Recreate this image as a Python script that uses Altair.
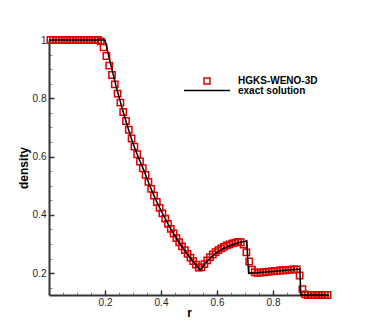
import altair as alt
import pandas as pd

# numerical solution (HGKS-WENO-3D), cell centres
num_r = [0.005, 0.015, 0.025, 0.035, 0.045, 0.055, 0.065, 0.075, 0.085, 0.095,
         0.105, 0.115, 0.125, 0.135, 0.145, 0.155, 0.165, 0.175, 0.185, 0.195,
         0.205, 0.215, 0.225, 0.235, 0.245, 0.255, 0.265, 0.275, 0.285, 0.295,
         0.305, 0.315, 0.325, 0.335, 0.345, 0.355, 0.365, 0.375, 0.385, 0.395,
         0.405, 0.415, 0.425, 0.435, 0.445, 0.455, 0.465, 0.475, 0.485, 0.495,
         0.505, 0.515, 0.525, 0.535, 0.545, 0.555, 0.565, 0.575, 0.585, 0.595,
         0.605, 0.615, 0.625, 0.635, 0.645, 0.655, 0.665, 0.675, 0.685, 0.695,
         0.705, 0.715, 0.725, 0.735, 0.745, 0.755, 0.765, 0.775, 0.785, 0.795,
         0.805, 0.815, 0.825, 0.835, 0.845, 0.855, 0.865, 0.875, 0.885, 0.895,
         0.905, 0.915, 0.925, 0.935, 0.945, 0.955, 0.965, 0.975, 0.985, 0.995]
num_rho = [1.0, 1.0, 1.0, 1.0, 1.0, 1.0, 1.0, 1.0, 1.0, 1.0,
           1.0, 1.0, 1.0, 1.0, 1.0, 1.0, 1.0, 1.0, 0.995, 0.975,
           0.945, 0.912, 0.880, 0.848, 0.816, 0.785, 0.753, 0.722, 0.692, 0.662,
           0.634, 0.608, 0.583, 0.560, 0.537, 0.513, 0.489, 0.466, 0.444, 0.424,
           0.405, 0.387, 0.369, 0.352, 0.336, 0.320, 0.306, 0.292, 0.279, 0.266,
           0.253, 0.241, 0.229, 0.219, 0.220, 0.231, 0.244, 0.255, 0.264, 0.272,
           0.279, 0.285, 0.290, 0.295, 0.299, 0.302, 0.305, 0.307, 0.306, 0.298,
           0.271, 0.240, 0.212, 0.203, 0.201, 0.202, 0.203, 0.204, 0.205, 0.206,
           0.207, 0.208, 0.209, 0.210, 0.210, 0.211, 0.212, 0.213, 0.213, 0.192,
           0.145, 0.127, 0.125, 0.125, 0.125, 0.125, 0.125, 0.125, 0.125, 0.125]

# exact solution
exact_r = [0.0, 0.2, 0.22, 0.24, 0.26, 0.28, 0.30, 0.32, 0.34, 0.36, 0.38,
           0.40, 0.42, 0.44, 0.46, 0.48, 0.50, 0.52, 0.54, 0.56, 0.58, 0.60,
           0.62, 0.64, 0.66, 0.68, 0.70, 0.706, 0.713, 0.80, 0.896, 0.899, 1.0]
exact_rho = [1.0, 1.0, 0.918, 0.840, 0.770, 0.705, 0.645, 0.595, 0.550, 0.500, 0.455,
             0.415, 0.378, 0.343, 0.312, 0.284, 0.258, 0.234, 0.211, 0.236, 0.256, 0.271,
             0.283, 0.292, 0.299, 0.305, 0.309, 0.311, 0.199, 0.206, 0.214, 0.125, 0.125]

x_major = [0.2, 0.4, 0.6, 0.8]
x_minor = [0.05, 0.1, 0.15, 0.25, 0.3, 0.35, 0.45, 0.5, 0.55, 0.65, 0.7, 0.75, 0.85, 0.9, 0.95]
y_major = [0.2, 0.4, 0.6, 0.8, 1.0]
y_minor = [0.15, 0.25, 0.3, 0.35, 0.45, 0.5, 0.55, 0.65, 0.7, 0.75, 0.85, 0.9, 0.95]
series_names = ["HGKS-WENO-3D", "exact solution"]

num_df = pd.DataFrame({"r": num_r, "rho": num_rho, "series": series_names[0]})
exact_df = pd.DataFrame({"r": exact_r, "rho": exact_rho, "series": series_names[1]})

FONT = "Liberation Sans"
W, H = 280, 255
xs = alt.Scale(domain=[0, 1], nice=False, zero=False)
ys = alt.Scale(domain=[0.125, 1], nice=False, zero=False)

points = alt.Chart(num_df).mark_point(
    shape="square", filled=False, size=40, strokeWidth=1.5, opacity=1
).encode(
    x=alt.X("r:Q", scale=xs, axis=alt.Axis(
        orient="top", offset=-H, values=x_major, labels=False, domain=False,
        grid=False, tickSize=5, tickWidth=1.5, tickColor="#333", title=None)),
    y=alt.Y("rho:Q", scale=ys, axis=alt.Axis(
        orient="right", offset=-W, values=y_major, labels=False, domain=False,
        grid=False, tickSize=5, tickWidth=1.5, tickColor="#333", title=None)),
    color=alt.Color("series:N",
                    scale=alt.Scale(domain=[series_names[0]], range=["#e00000"]),
                    legend=alt.Legend(
                        title=None, orient="none", legendX=153, legendY=36,
                        padding=0, symbolType="square", symbolSize=36,
                        symbolStrokeWidth=1.5, labelFont=FONT, labelFontSize=10,
                        labelFontWeight="bold", labelColor="black", labelOffset=26)),
)

minor = alt.Chart(exact_df).mark_point(opacity=0).encode(
    x=alt.X("r:Q", scale=xs, axis=alt.Axis(
        orient="top", offset=-H, values=x_minor, labels=False, domain=False,
        grid=False, tickSize=3, tickWidth=1, tickColor="#888", title=None)),
    y=alt.Y("rho:Q", scale=ys, axis=alt.Axis(
        orient="right", offset=-W, values=y_minor, labels=False, domain=False,
        grid=False, tickSize=3, tickWidth=1, tickColor="#888", title=None)),
)

line = alt.Chart(exact_df).mark_line(strokeWidth=1.5).encode(
    x=alt.X("r:Q", scale=xs, axis=alt.Axis(
        orient="bottom", values=x_major, format="~g", ticks=False, tickSize=0,
        domain=True, domainColor="#333", domainWidth=2, grid=False,
        labelFont=FONT, labelFontSize=10, labelColor="#222", labelPadding=2,
        title="r", titleFont=FONT, titleFontSize=12, titleFontWeight="bold",
        titleColor="black", titleX=140, titleY=17, titleBaseline="middle")),
    y=alt.Y("rho:Q", scale=ys, axis=alt.Axis(
        orient="left", values=y_major, format="~g", ticks=False, tickSize=0,
        domain=True, domainColor="#333", domainWidth=2, grid=False,
        labelFont=FONT, labelFontSize=10, labelColor="#222", labelPadding=3,
        title="density", titleFont=FONT, titleFontSize=12, titleFontWeight="bold",
        titleColor="black", titleX=-26, titleY=127.5, titleAngle=270,
        titleBaseline="middle", titleAlign="center")),
    color=alt.Color("series:N",
                    scale=alt.Scale(domain=[series_names[1]], range=["black"]),
                    legend=alt.Legend(
                        title=None, orient="none", legendX=134, legendY=26.5,
                        padding=0, symbolType="stroke", symbolSize=2116,
                        symbolStrokeWidth=1.5, labelFont=FONT, labelFontSize=10,
                        labelFontWeight="bold", labelColor="black", labelOffset=7)),
)

chart = alt.layer(points, minor, line).resolve_scale(
    color="independent"
).resolve_axis(
    x="independent", y="independent"
).resolve_legend(
    color="independent"
).properties(
    width=W, height=H,
    autosize=alt.AutoSizeParams(type="none"),
    padding={"left": 41, "top": 32, "right": 30, "bottom": 29},
).configure_view(strokeWidth=0)

chart.save("out.html", embed_options={"renderer": "svg", "actions": False})
